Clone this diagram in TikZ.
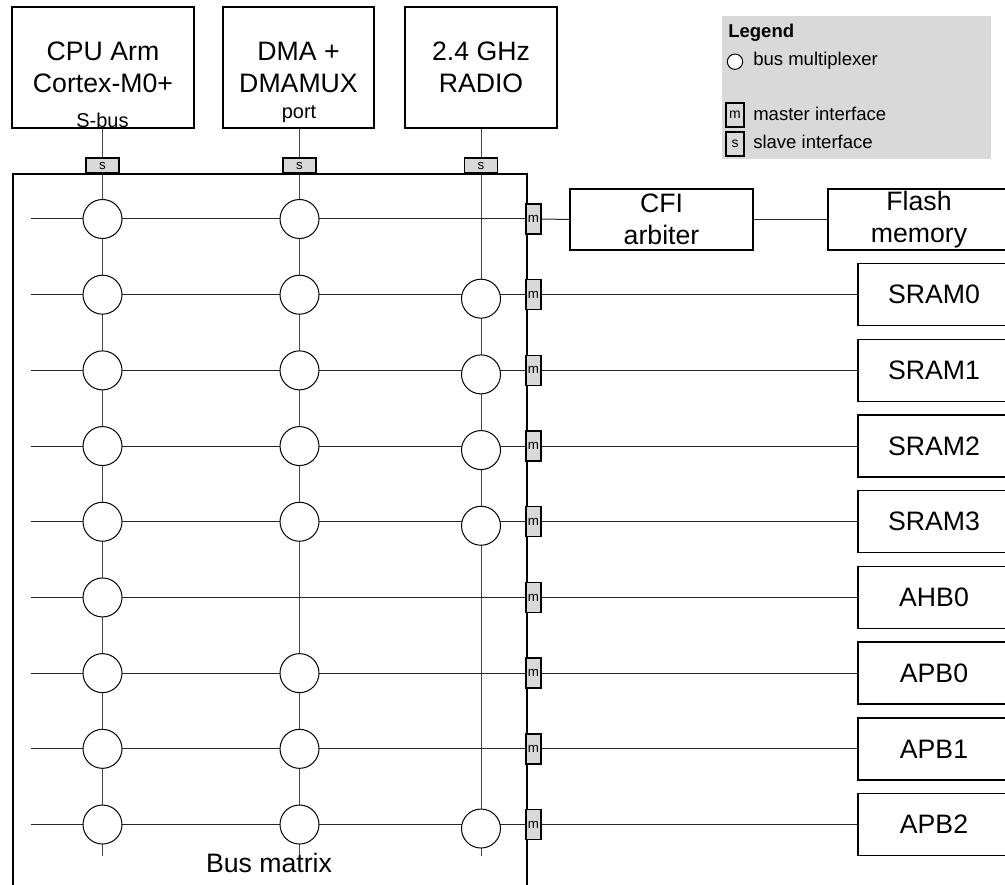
\documentclass[tikz,border=0pt]{standalone}
\usepackage{fontspec}
\setmainfont{Liberation Sans}
\pgfdeclarelayer{bg}
\pgfsetlayers{bg,main}
\definecolor{lgray}{RGB}{217,217,217}
\definecolor{lineg}{RGB}{70,70,70}
\begin{document}
\begin{tikzpicture}[x=0.75pt,y=-0.75pt,
  bigtxt/.style={font=\fontsize{20}{24}\selectfont},
  smalltxt/.style={font=\fontsize{15}{18}\selectfont},
  legtxt/.style={font=\fontsize{13.9}{16}\selectfont},
  blk/.style={draw=black,line width=1.1pt,fill=white,inner sep=0pt,align=center,bigtxt},
  mux/.style={circle,draw=black,line width=0.75pt,fill=white,minimum size=29.25pt,inner sep=0pt},
  sbox/.style={draw=black,line width=1.1pt,fill=lgray,inner sep=0pt,minimum width=24.75pt,minimum height=11.25pt,font=\fontsize{10}{10}\selectfont},
  mbox/.style={draw=black,line width=1.1pt,fill=lgray,inner sep=0pt,minimum width=11.25pt,minimum height=22.5pt,font=\fontsize{10}{10}\selectfont},
  wire/.style={draw=lineg,line width=0.75pt},
  hwire/.style={draw=black!85,line width=0.75pt}]
\useasboundingbox (0,0) rectangle (1005,884);

% masters
\node[blk,minimum width=136.5pt,minimum height=90.75pt] (cpu) at (103,67.5) {CPU Arm\\Cortex-M0+};
\node[blk,minimum width=113.25pt,minimum height=90.75pt] (dma) at (298.5,67.5) {DMA +\\DMAMUX};
\node[blk,minimum width=114pt,minimum height=90.75pt] (radio) at (481,67.5) {2.4 GHz\\RADIO};
\node[smalltxt,anchor=base,inner sep=0pt] (sbus) at (102.5,128) {S-bus};
\node[smalltxt,anchor=base,inner sep=0pt] (port) at (299,119) {port};

% bus matrix (no fill, so that the wires below show)
\node[draw=black,line width=1.5pt,inner sep=0pt,anchor=north west,minimum width=385.5pt,minimum height=540pt] (bm) at (12,173) {};
\node[bigtxt,anchor=base,inner sep=0pt] (bmlabel) at (269,872) {Bus matrix};

% slave interfaces
\node[sbox] (s1) at (102.5,165.5) {s};
\node[sbox] (s2) at (299.5,165.5) {s};
\node[sbox] (s3) at (481,165.5) {s};

% multiplexers
\foreach \c/\x/\off/\rows in {1/102.5/0/{1,2,3,4,5,6,7,8,9},2/299.5/0/{1,2,3,4,5,7,8,9},3/481/4/{2,3,4,5,9}} {
  \foreach \r in \rows {
    \pgfmathsetmacro\yy{143.31+75.69*\r+\off}
    \node[mux] (x\r\c) at (\x,\yy) {};
  }
}

% master interfaces and row start points
\foreach \r in {1,...,9} {
  \pgfmathsetmacro\yy{143.31+75.69*\r}
  \node[mbox] (m\r) at (533.5,\yy) {m};
  \coordinate (L\r) at (31,\yy);
}

% slaves
\node[blk,minimum width=137.25pt,minimum height=45.75pt] (cfi) at (661.5,219.5) {CFI\\arbiter};
\node[blk,minimum width=136.5pt,minimum height=45.75pt] (flash) at (919,219.5) {Flash\\memory};
\foreach \r/\t in {2/SRAM0,3/SRAM1,4/SRAM2,5/SRAM3,6/AHB0,7/APB0,8/APB1,9/APB2} {
  \pgfmathsetmacro\yy{143.31+75.69*\r}
  \node[blk,minimum width=114pt,minimum height=46.5pt] (t\r) at (934,\yy) {\t};
}

% column end points
\coordinate (E1) at (102.5,856);
\coordinate (E2) at (299.5,857);
\coordinate (E3) at (481,856);

% wires, under everything
\begin{pgfonlayer}{bg}
  \draw[wire] (cpu.south -| s1) -- (s1.north);
  \draw[wire] (dma.south -| s2) -- (s2.north);
  \draw[wire] (radio.south -| s3) -- (s3.north);
  \foreach \c in {1,2,3} {
    \draw[wire] (s\c.south) -- (E\c);
  }
  \foreach \r in {1,...,9} {
    \draw[hwire] (L\r) -- (m\r.west);
  }
  \draw[hwire] (m1.east) -- (cfi.west);
  \draw[hwire] (cfi.east) -- (flash.west);
  \foreach \r in {2,...,9} {
    \draw[hwire] (m\r.east) -- (t\r.west);
  }
\end{pgfonlayer}

% legend
\node[fill=lgray,inner sep=0pt,anchor=north west,minimum width=201.75pt,minimum height=107.25pt] (legend) at (722,16) {};
\node[legtxt,anchor=base west,inner sep=0pt] (lt) at (728,37.7) {\bfseries Legend};
\node[circle,draw=black,line width=0.75pt,fill=white,minimum size=11.5pt,inner sep=0pt] (lc) at (735,61.7) {};
\node[legtxt,anchor=base west,inner sep=0pt] (lct) at (753,65.7) {bus multiplexer};
\node[draw=black,line width=0.9pt,inner sep=0pt,minimum width=13.5pt,minimum height=18pt,font=\fontsize{10.5}{10.5}\selectfont] (lm) at (735,115) {m};
\node[legtxt,anchor=base west,inner sep=0pt] (lmt) at (753,120.7) {master interface};
\node[draw=black,line width=0.9pt,inner sep=0pt,minimum width=13.5pt,minimum height=18pt,font=\fontsize{10.5}{10.5}\selectfont] (ls) at (735,144) {s};
\node[legtxt,anchor=base west,inner sep=0pt] (lst) at (753,148.3) {slave interface};
\end{tikzpicture}
\end{document}
